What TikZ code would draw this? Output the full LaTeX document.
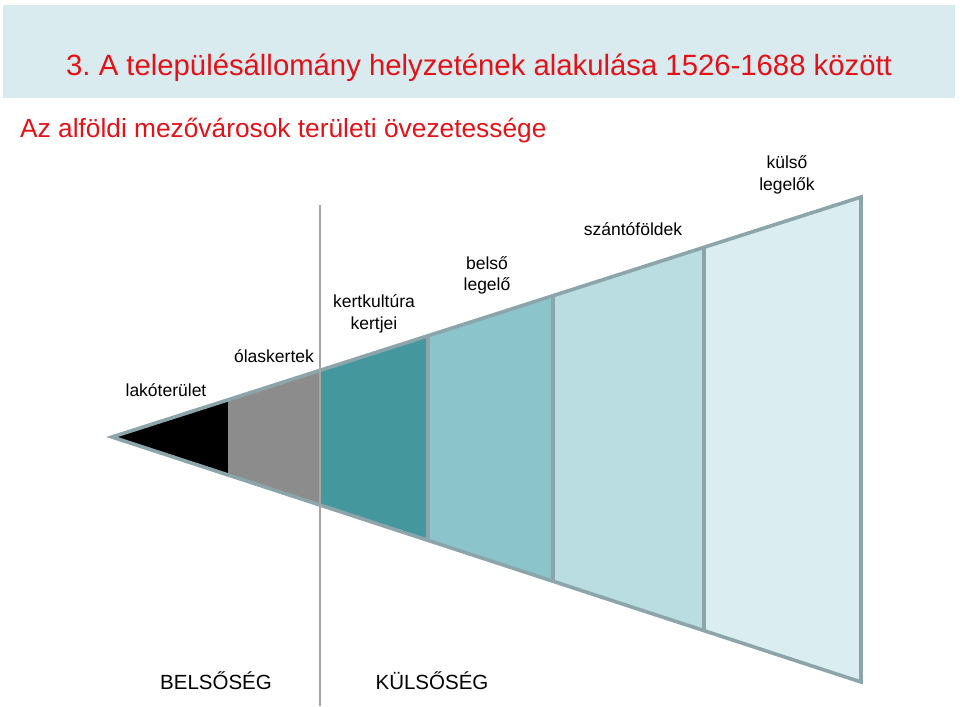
\documentclass[tikz,border=0pt]{standalone}
\usepackage{fontspec}
\setmainfont{Liberation Sans}
\frenchspacing
\definecolor{titlebg}{RGB}{218,235,240}
\definecolor{titlered}{RGB}{226,18,24}
\definecolor{edge}{RGB}{140,165,170}
\definecolor{divline}{RGB}{165,165,165}
\definecolor{zgray}{RGB}{140,140,140}
\definecolor{zteal}{RGB}{69,151,158}
\definecolor{zlteal}{RGB}{140,196,204}
\definecolor{zlighter}{RGB}{186,221,225}
\definecolor{zlightest}{RGB}{218,237,240}
\tikzset{
  lbl/.style={font=\fontsize{17.5}{20}\selectfont, anchor=base, inner sep=0pt, text=black},
  edgeline/.style={draw=edge, line width=3.6pt, line join=miter},
  divider/.style={draw=edge, line width=3.2pt},
}
\begin{document}
\begin{tikzpicture}[x=1pt,y=-1pt]
\useasboundingbox (0,0) rectangle (960,706);
% title bar
\fill[titlebg] (3,5) rectangle (955,98);
\node[anchor=base west, inner sep=0pt, text=titlered, font=\fontsize{29.3}{34}\selectfont] (title) at (66,76) {3. A településállomány helyzetének alakulása 1526-1688 között};
\node[anchor=base west, inner sep=0pt, text=titlered, font=\fontsize{26.3}{30}\selectfont] (subtitle) at (20,137) {Az alföldi mezővárosok területi övezetessége};
% zones
\fill[black]     (112,437) -- (228,400) -- (228,475) -- cycle;
\fill[zgray]     (228,400) -- (320,370) -- (320,505) -- (228,475) -- cycle;
\fill[zteal]     (320,370) -- (428,336) -- (428,540) -- (320,505) -- cycle;
\fill[zlteal]    (428,336) -- (553,296) -- (553,581) -- (428,540) -- cycle;
\fill[zlighter]  (553,296) -- (704,247) -- (704,631) -- (553,581) -- cycle;
\fill[zlightest] (704,247) -- (861,197) -- (861,682) -- (704,631) -- cycle;
% outline and dividers
\draw[edgeline] (112,437) -- (861,197) -- (861,682) -- cycle;
\draw[divider] (428,336) -- (428,540);
\draw[divider] (553,296) -- (553,581);
\draw[divider] (704,247) -- (704,631);
% vertical separator
\draw[divline, line width=2pt] (320,205) -- (320,706);
% labels
\node[lbl] (lako) at (166,396) {lakóterület};
\node[lbl] (olas) at (274,362) {ólaskertek};
\node[lbl] (kert1) at (374,307) {kertkultúra};
\node[lbl] (kert2) at (374,329) {kertjei};
\node[lbl] (bels1) at (487,269) {belső};
\node[lbl] (bels2) at (487,290) {legelő};
\node[lbl] (szanto) at (633,235) {szántóföldek};
\node[lbl] (kuls1) at (787,168) {külső};
\node[lbl] (kuls2) at (787,190) {legelők};
\node[lbl, font=\fontsize{20.5}{24}\selectfont] (belseg) at (216,689) {BELSŐSÉG};
\node[lbl, font=\fontsize{20.5}{24}\selectfont] (kulseg) at (432,689) {KÜLSŐSÉG};
\end{tikzpicture}
\end{document}
